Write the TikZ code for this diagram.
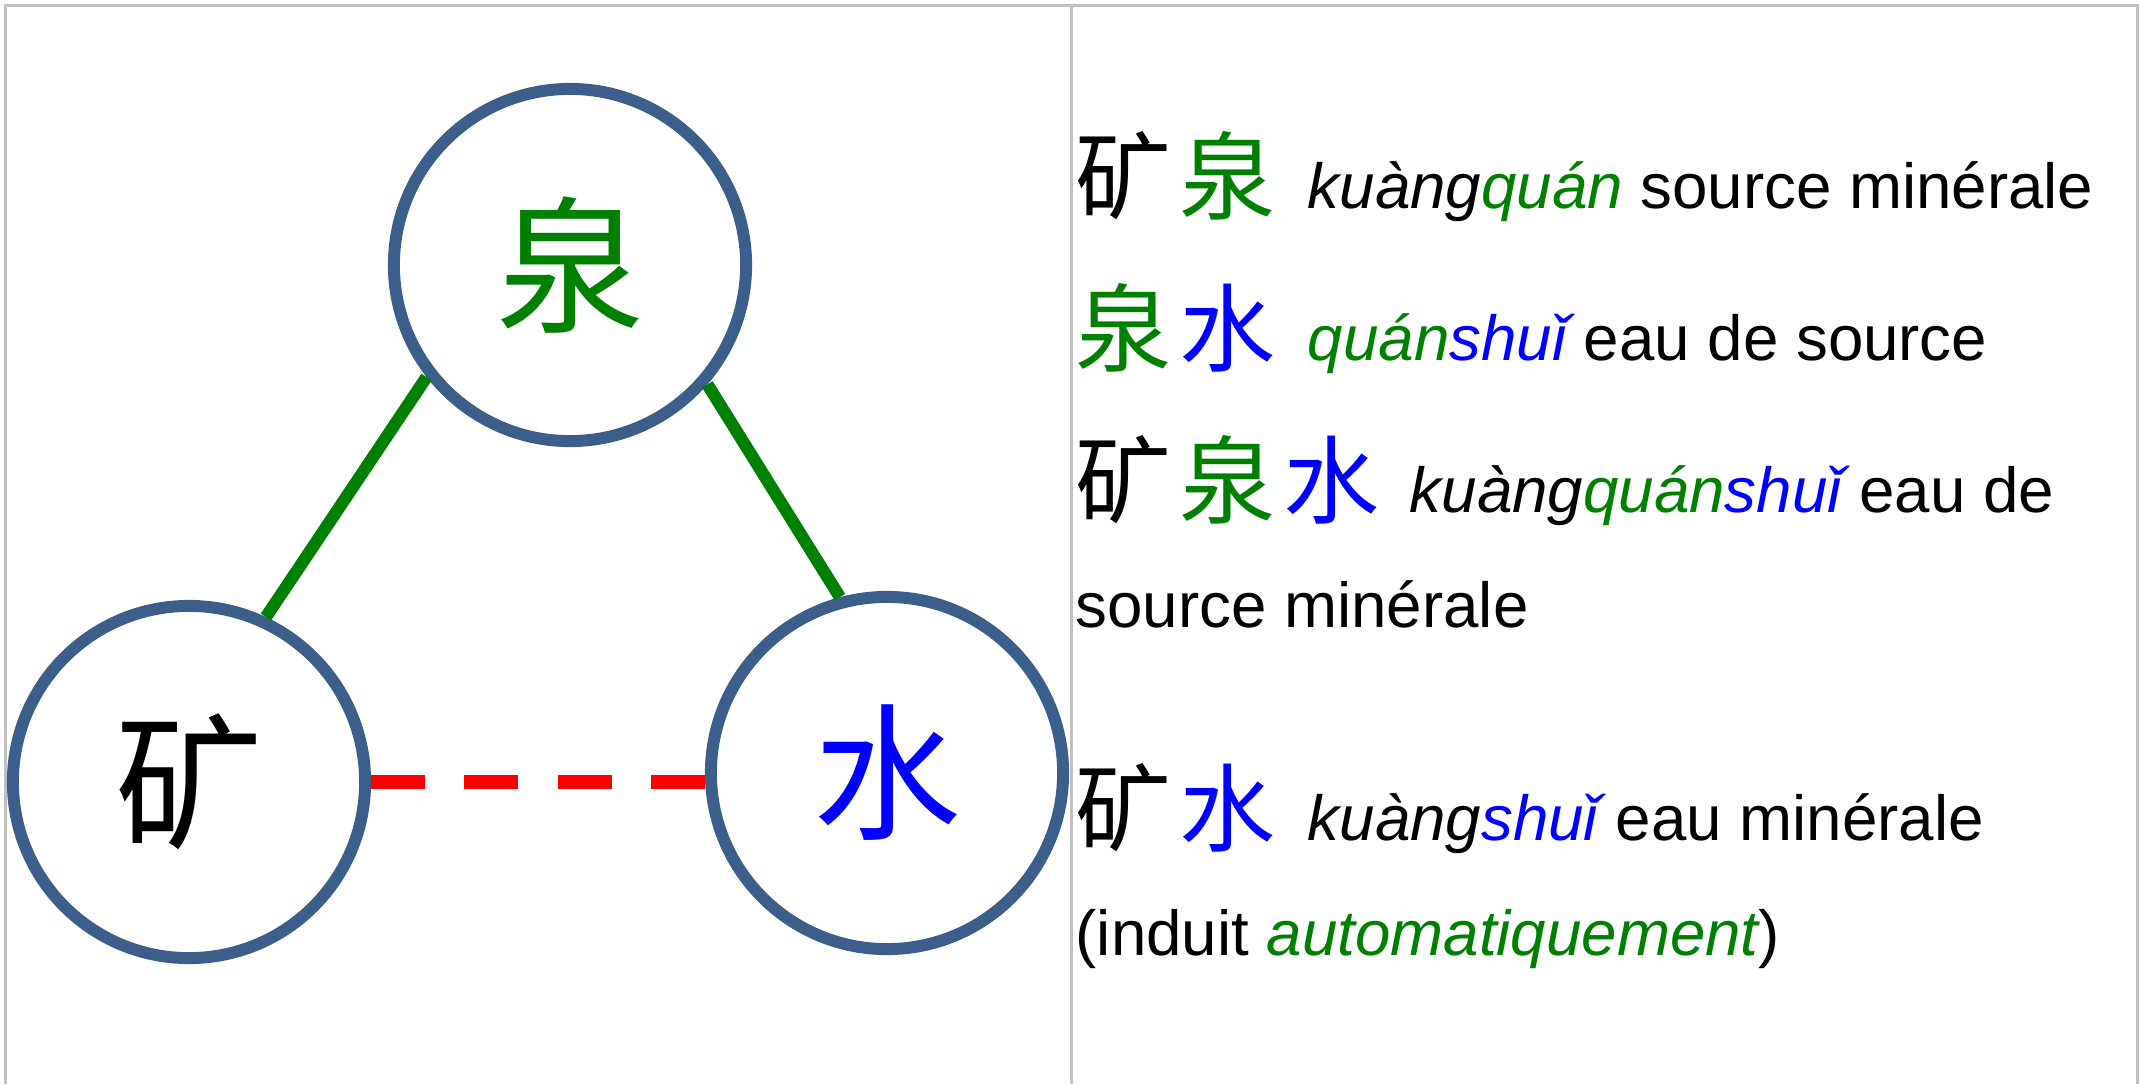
\documentclass[tikz,border=0pt]{standalone}
\usepackage{fontspec}
\setmainfont{Liberation Sans}
\newfontfamily\cjk{Noto Sans CJK SC}
\definecolor{ringblue}{HTML}{3B5E8B}
\definecolor{pgreen}{HTML}{008000}
\definecolor{pblue}{HTML}{0000FF}
\definecolor{pred}{HTML}{FF0000}
\definecolor{rulegray}{HTML}{C0C0C0}
\newcommand{\hanzi}[1]{\makebox[1.04cm][l]{\cjk\fontsize{27.3}{27.3}\selectfont\raisebox{-0.04cm}{#1}}}
\begin{document}
\begin{tikzpicture}[x=0.01cm,y=-0.01cm,
  ring/.style={circle, draw=ringblue, line width=3.4pt, minimum size=3.52cm, inner sep=0pt, font=\cjk\fontsize{42}{42}\selectfont},
  solidlink/.style={draw=pgreen, line width=3.5pt},
  dashlink/.style={draw=pred, line width=3.8pt, dash pattern=on 0.54cm off 0.393cm},
  rulel/.style={draw=rulegray, line width=0.85pt},
  txt/.style={anchor=base west, inner sep=0pt, font=\fontsize{18.1}{22}\selectfont}]
\useasboundingbox (0,0) rectangle (2143,1084);
% frame
\draw[rulel] (4,5.5) -- (2138.5,5.5);
\draw[rulel] (5.5,5.5) -- (5.5,1084);
\draw[rulel] (2137,5.5) -- (2137,1084);
\draw[rulel] (1071.5,5.5) -- (1071.5,1084);
% circles
\node[ring, text=pgreen] (top) at (570,265) {泉};
\node[ring, text=black] (left) at (189,782) {矿};
\node[ring, text=pblue] (right) at (887,773) {水};
% links
\draw[solidlink] (top.218.5) -- (left.65);
\draw[solidlink] (top.319.3) -- (right.105);
\draw[dashlink] (left.east) -- (left.east -| right.west);
% text
\node[txt] (l1) at (1075,208) {\hanzi{矿}\hanzi{\color{pgreen}泉}\hspace{0.24cm}\textit{kuàng\textcolor{pgreen}{quán}} source minérale};
\node[txt] (l2) at (1075,360) {\hanzi{\color{pgreen}泉}\hanzi{\color{pblue}水}\hspace{0.24cm}\textit{\textcolor{pgreen}{quán}\textcolor{pblue}{shuǐ}} eau de source};
\node[txt] (l3) at (1075,512) {\hanzi{矿}\hanzi{\color{pgreen}泉}\hanzi{\color{pblue}水}\hspace{0.22cm}\textit{kuàng\textcolor{pgreen}{quán}\textcolor{pblue}{shuǐ}} eau de};
\node[txt] (l4) at (1075,627) {source minérale};
\node[txt] (l5) at (1075,840) {\hanzi{矿}\hanzi{\color{pblue}水}\hspace{0.24cm}\textit{kuàng\textcolor{pblue}{shuǐ}} eau minérale};
\node[txt] (l6) at (1075,955) {(induit \textit{\textcolor{pgreen}{automatiquement}})};
\end{tikzpicture}
\end{document}
